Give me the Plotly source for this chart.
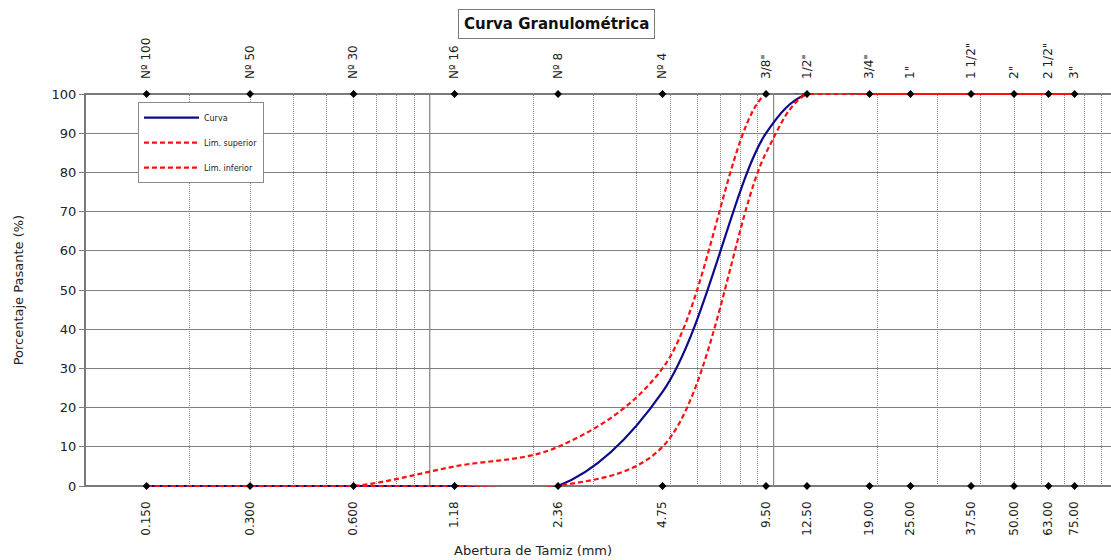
import plotly.graph_objects as go

# Sieve openings (mm) and their names
sizes = [0.150, 0.300, 0.600, 1.18, 2.36, 4.75, 9.50, 12.50, 19.00, 25.00, 37.50, 50.00, 63.00, 75.00]
size_labels = ["0.150", "0.300", "0.600", "1.18", "2.36", "4.75", "9.50", "12.50",
               "19.00", "25.00", "37.50", "50.00", "63.00", "75.00"]
sieve_names = ["Nº 100", "Nº 50", "Nº 30", "Nº 16", "Nº 8", "Nº 4", "3/8\"", "1/2\"",
               "3/4\"", "1\"", "1 1/2\"", "2\"", "2 1/2\"", "3\""]

# Percent passing
curva = [0, 0, 0, 0, 0, 24, 90, 100, 100, 100, 100, 100, 100, 100]
lim_superior = [0, 0, 0, 5, 10, 30, 100, 100, 100, 100, 100, 100, 100, 100]
lim_inferior = [0, 0, 0, 0, 0, 10, 85, 100, 100, 100, 100, 100, 100, 100]

# Log-grid positions
grid_vals = [m * d for d in (0.1, 1, 10) for m in range(1, 10)]
decades = [1, 10]
frame_levels = [0, 100]

FONT = "DejaVu Sans"
x_range = [-1.0, 1.981]
# a hair of padding so lines lying on 0 % and 100 % are not cut in half
y_range = [-0.255, 100.255]

fig = go.Figure()

fig.add_trace(go.Scatter(
    x=sizes, y=curva, name="Curva", mode="lines",
    line=dict(color="#0b0b8c", width=2.2, shape="spline", smoothing=1.0),
    legendgroup="a"))
fig.add_trace(go.Scatter(
    x=sizes, y=lim_superior, name="Lim. superior", mode="lines",
    line=dict(color="#ff1010", width=2.2, dash="5px,3px", shape="spline", smoothing=1.0),
    legendgroup="b"))
fig.add_trace(go.Scatter(
    x=sizes, y=lim_inferior, name="Lim. inferior", mode="lines",
    line=dict(color="#ff1010", width=2.2, dash="5px,3px", shape="spline", smoothing=1.0),
    legendgroup="c"))

# Sieve markers along the bottom and top edges
fig.add_trace(go.Scatter(
    x=sizes, y=[0] * len(sizes), mode="markers", showlegend=False,
    marker=dict(symbol="diamond", size=6, color="black"), cliponaxis=False))
fig.add_trace(go.Scatter(
    x=sizes, y=[100] * len(sizes), mode="markers", showlegend=False, xaxis="x2",
    marker=dict(symbol="diamond", size=6, color="black"), cliponaxis=False))

for d in decades:
    fig.add_shape(type="line", xref="x", yref="paper", x0=d, x1=d, y0=0, y1=1,
                  line=dict(color="#6e6e6e", width=1), layer="between")
for lv in frame_levels:
    fig.add_shape(type="line", xref="paper", yref="y", x0=0, x1=1, y0=lv, y1=lv,
                  line=dict(color="#7a7a7a", width=2), layer="between")

fig.update_layout(
    width=1111, height=560,
    margin=dict(l=86, r=0, t=93, b=73),
    paper_bgcolor="white", plot_bgcolor="white",
    font=dict(family=FONT, color="#222222", size=12),
    xaxis=dict(
        type="log", range=x_range,
        tickmode="array", tickvals=sizes, ticktext=size_labels,
        tickangle=-90, tickfont=dict(size=12), ticks="", ticklabelstandoff=11,
        showgrid=False, zeroline=False, showline=False,
        minor=dict(tickmode="array", tickvals=grid_vals, showgrid=True,
                   gridcolor="#8c8c8c", griddash="1px,1px", gridwidth=1, ticks=""),
    ),
    xaxis2=dict(
        type="log", range=x_range, overlaying="x", side="top",
        tickmode="array", tickvals=sizes, ticktext=sieve_names,
        tickangle=-90, tickfont=dict(size=12), ticks="", ticklabelstandoff=13,
        showgrid=False, zeroline=False, showline=False,
    ),
    yaxis=dict(
        range=y_range, tickmode="linear", tick0=0, dtick=10,
        tickfont=dict(size=13), ticks="outside", ticklen=5, tickcolor="#7a7a7a",
        showgrid=True, gridcolor="#7f7f7f", gridwidth=1, zeroline=False,
        showline=True, linecolor="#7a7a7a", linewidth=2, layer="below traces",
    ),
    legend=dict(
        x=0.0507, y=0.977, xanchor="left", yanchor="top",
        bgcolor="white", bordercolor="#8a8a8a", borderwidth=1,
        font=dict(size=8, family=FONT), tracegroupgap=6, itemwidth=55,
    ),
    annotations=[
        dict(text="<b>Curva Granulométrica</b>", xref="paper", yref="paper",
             x=0.459, y=1.176, xanchor="center", yanchor="middle", showarrow=False,
             font=dict(size=15, family=FONT, color="#111111"),
             bordercolor="#7a7a7a", borderwidth=1, borderpad=5, bgcolor="white"),
        dict(text="Porcentaje Pasante (%)", xref="paper", yref="paper",
             x=-0.066, y=0.5, xanchor="center", yanchor="middle", textangle=-90,
             showarrow=False, font=dict(size=13, family=FONT, color="#222222")),
        dict(text="Abertura de Tamiz (mm)", xref="paper", yref="paper",
             x=0.436, y=-0.160, xanchor="center", yanchor="middle",
             showarrow=False, font=dict(size=13, family=FONT, color="#222222")),
    ],
)

fig.write_html("out.html")
